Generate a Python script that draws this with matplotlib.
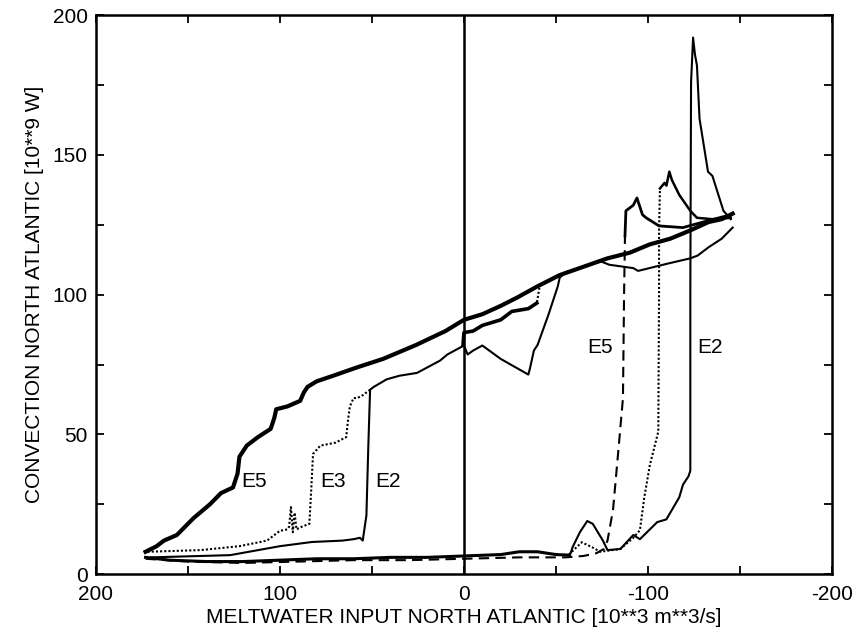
import matplotlib
matplotlib.use("Agg")
import matplotlib.pyplot as plt
from matplotlib.ticker import MultipleLocator

plt.rcParams['font.family'] = ['Liberation Sans', 'DejaVu Sans']
plt.rcParams['axes.unicode_minus'] = False

# ---- data ----
# upper (on) branch, E5 descending path
up_x = [-146, -140, -133, -123, -112, -101, -90, -78, -65, -52, -40, -29, -20, -10, 0,
        10, 26, 44, 58, 71, 80, 85, 87, 89, 96, 102, 103, 105, 112, 118, 122, 123,
        125.5, 132, 138, 147, 156, 163, 167, 173]
up_y = [129, 127, 126, 123, 120, 118, 115, 113, 110, 107, 103, 99, 96, 93, 91,
        87, 82, 77, 74, 71, 69, 67, 65, 62, 60, 59, 56, 52, 49, 46, 42, 36,
        31, 29, 25, 20, 14, 12, 10, 8]

# common lower (off) branch
low_x = [173, 160, 140, 120, 100, 80, 60, 40, 20, 0, -20, -30, -40, -50, -57]
low_y = [6, 5, 4.5, 4.5, 5, 5.5, 5.5, 6, 6, 6.5, 7, 8, 8, 7, 6.8]

# E5 rising (dashed) and overshoot (solid)
e5r_x = [173, 150, 120, 90, 60, 30, 0, -30, -55, -65, -72, -76, -78, -81, -84, -86.4, -87, -87.5]
e5r_y = [5.5, 4.5, 4, 4.5, 5, 5, 5.5, 6, 6, 6.5, 7.5, 9, 12, 23, 45, 63, 100, 121]
e5o_x = [-87.5, -88, -90, -92, -94, -97, -99, -106, -119, -130, -145]
e5o_y = [121, 130, 131, 132, 134.6, 128.6, 127.5, 124.6, 124, 126, 128.6]

# E3 rising (dotted) and overshoot (solid)
e3r_x = [-57, -64, -70, -74, -85, -92, -95.6, -98, -101, -105.6, -106, -106, -106.5]
e3r_y = [7, 11.4, 9.5, 8, 9, 13, 15.7, 27.5, 39, 51, 100, 123, 138]
e3o_x = [-106.5, -109, -110, -111.6, -113, -117, -123, -126.6, -135, -145]
e3o_y = [138, 140, 139, 144, 141, 135.7, 130, 127.5, 127, 127.5]

# E2 rising (solid)
e2r_x = [-57.6, -59, -63, -67, -70, -75.5, -78, -85, -92, -95.6, -105, -110, -117,
         -119, -122, -123, -123, -123.4, -124.5, -125.5, -126.6, -128, -132.6,
         -135, -141, -145]
e2r_y = [6.8, 9.6, 15, 19, 18, 12, 8.6, 9, 14, 12.5, 18.6, 19.6, 27.5,
         32, 35, 37, 100, 176, 192, 186, 182, 163, 144,
         142.5, 130, 127]

# E2 descending (solid)
e2d_x = [-146, -140, -133, -127, -123, -110, -94.6, -92, -79, -74, -65, -55, -52,
         -51, -46, -40, -38, -36, -35, -20, -10, -5, -2, 0, 9, 13, 25.5, 35, 42,
         49, 51, 52, 53, 55, 56.5, 60, 66, 82.6, 100, 127, 143, 170]
e2d_y = [124, 120, 117, 114, 113, 111, 108.5, 109.5, 110.7, 112, 110, 108, 106,
         103, 93, 82, 80, 74, 71.4, 77, 81.8, 80, 78.6, 81.8, 78.6, 76.4, 72, 71, 69.7,
         67, 66, 45, 21, 12, 13, 12.5, 12, 11.5, 10, 6.8, 6.5, 6]

# E3 descending: dotted drop, noisy segment, dotted lower part
e3a_x = [-41, -39.6]
e3a_y = [102.5, 97]
e3b_x = [-39.6, -35, -26, -20, -15, -10, -5, 0, 0.5]
e3b_y = [97, 95, 94, 91, 90, 89, 87, 86.4, 82]
e3c_x = [51, 53, 55, 58, 60, 62, 63, 64, 70, 78, 82, 83, 84, 88, 91, 92, 93, 94,
         95, 96, 100, 107, 122, 143, 172]
e3c_y = [66, 65, 64, 63, 63, 60, 55, 49, 47, 46, 43, 30, 18, 17, 16, 22, 15, 24,
         17, 16, 15.5, 12, 10, 8.6, 8]

labels = ["E5", "E3", "E2", "E5", "E2"]
label_x = [121, 78, 48, -67, -126.5]
label_y = [33, 33, 33, 81, 81]

# ---- figure ----
fig = plt.figure(figsize=(8.56, 6.33), dpi=100)
ax = fig.add_axes([0.112, 0.093, 0.860, 0.883])

k = 'black'
ax.plot(up_x, up_y, color=k, lw=3.0, solid_joinstyle='round')
ax.plot(low_x, low_y, color=k, lw=2.2)
ax.plot(e5r_x, e5r_y, color=k, lw=1.5, ls=(0, (5, 3)))
ax.plot(e5o_x, e5o_y, color=k, lw=2.0)
ax.plot(e3r_x, e3r_y, color=k, lw=1.5, ls=(0, (1, 1)))
ax.plot(e3o_x, e3o_y, color=k, lw=1.8)
ax.plot(e2r_x, e2r_y, color=k, lw=1.5)
ax.plot(e2d_x, e2d_y, color=k, lw=1.5)
ax.plot(e3a_x, e3a_y, color=k, lw=1.5, ls=(0, (1, 1)))
ax.plot(e3b_x, e3b_y, color=k, lw=2.6)
ax.plot(e3c_x, e3c_y, color=k, lw=1.5, ls=(0, (1, 1)))

ax.axvline(0, color=k, lw=1.8)

for t, x, y in zip(labels, label_x, label_y):
    ax.text(x, y, t, fontsize=15, ha='left', va='center')

ax.set_xlim(200, -200)
ax.set_ylim(0, 200)
ax.xaxis.set_major_locator(MultipleLocator(100))
ax.xaxis.set_minor_locator(MultipleLocator(50))
ax.yaxis.set_major_locator(MultipleLocator(50))
ax.yaxis.set_minor_locator(MultipleLocator(25))
ax.tick_params(which='both', direction='in', top=True, right=True, labelsize=15,
               width=1.3, length=6)
ax.tick_params(axis='x', which='major', pad=8)
ax.tick_params(axis='y', which='major', pad=6)
for s in ax.spines.values():
    s.set_linewidth(1.8)

ax.set_xlabel("MELTWATER INPUT NORTH ATLANTIC [10**3 m**3/s]", fontsize=15, labelpad=3)
ax.set_ylabel("CONVECTION NORTH ATLANTIC [10**9 W]", fontsize=15, labelpad=6)

fig.savefig("out.png", dpi=100)
